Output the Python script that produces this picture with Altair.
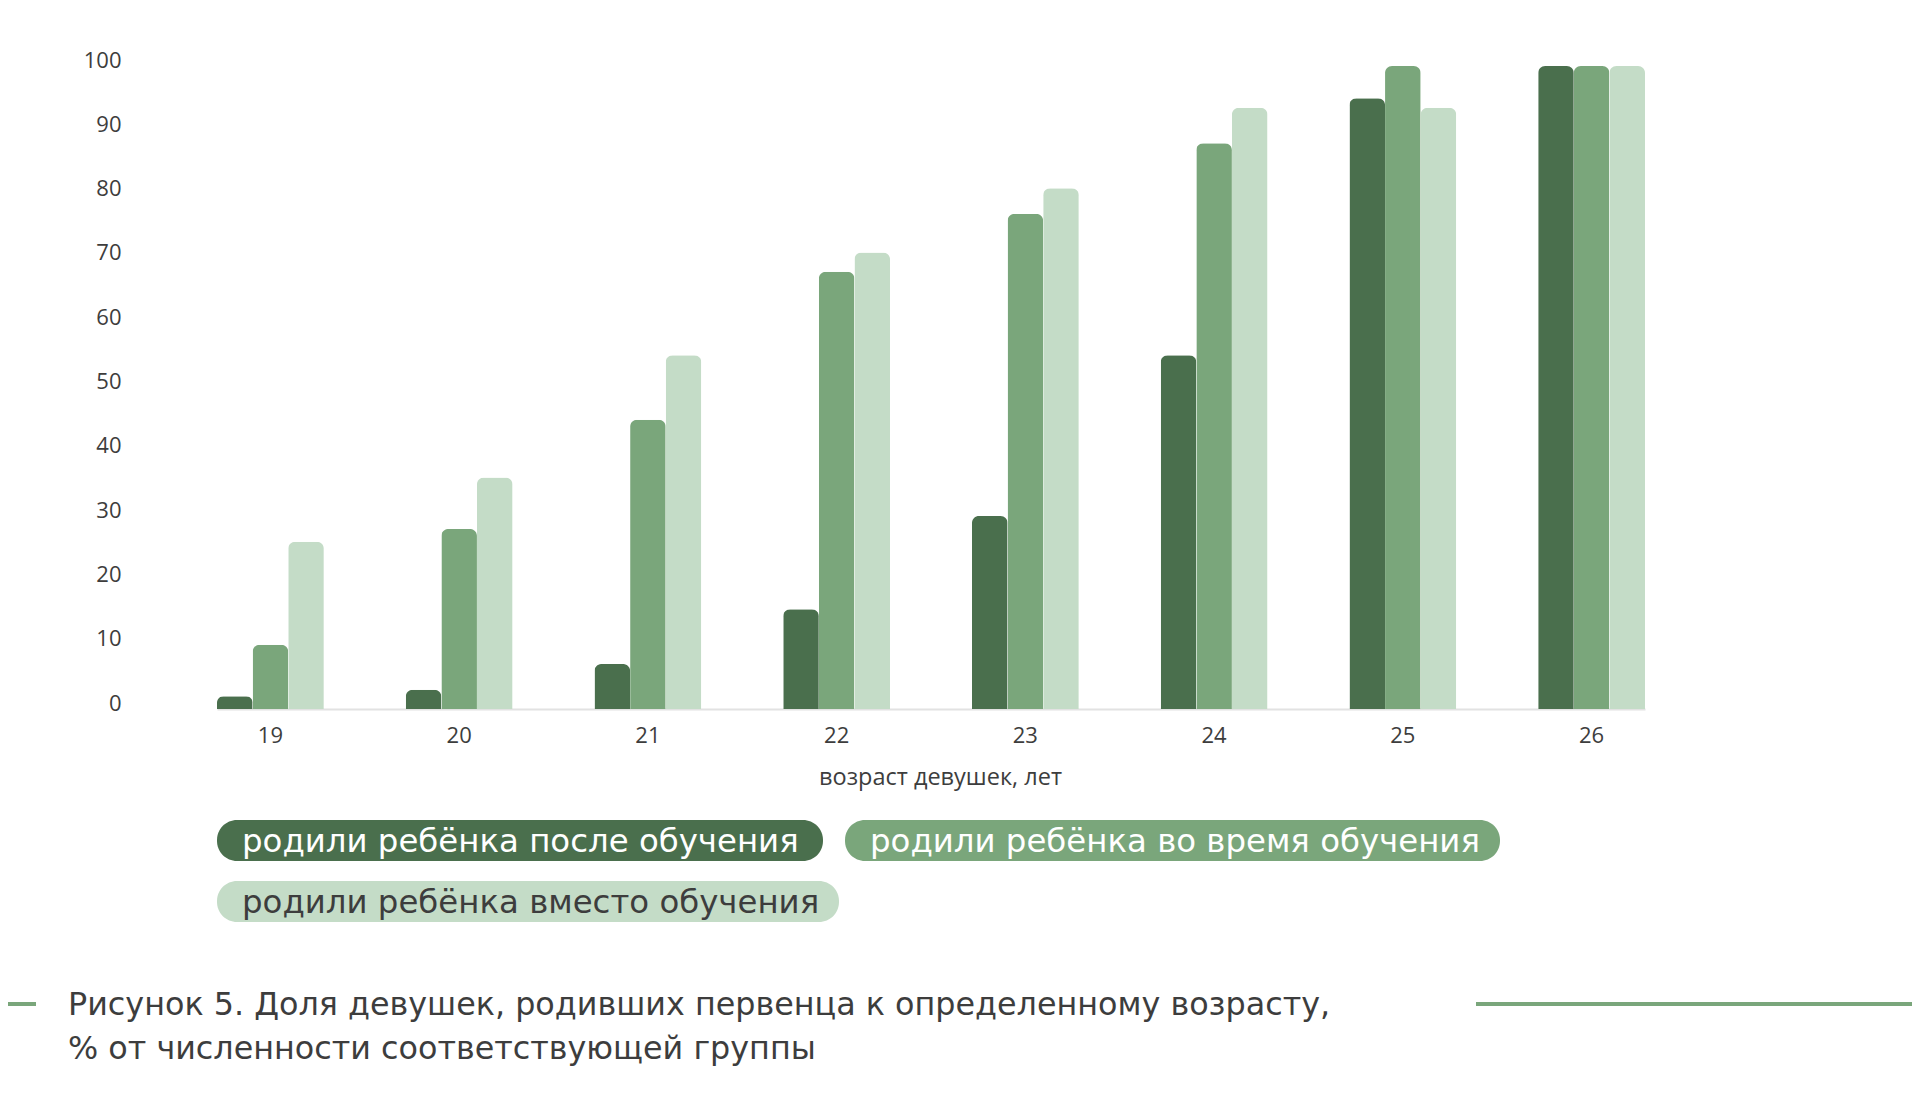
import altair as alt
import pandas as pd

# ---------------- data ----------------
AGES = ["19", "20", "21", "22", "23", "24", "25", "26"]
SERIES = [
    "родили ребёнка после обучения",
    "родили ребёнка во время обучения",
    "родили ребёнка вместо обучения",
]
AFTER = [2, 3, 7, 15.5, 30, 55, 95, 100]
DURING = [10, 28, 45, 68, 77, 88, 100, 100]
INSTEAD = [26, 36, 55, 71, 81, 93.5, 93.5, 100]
Y_TICKS = [0, 10, 20, 30, 40, 50, 60, 70, 80, 90, 100]
X_TITLE = "возраст девушек, лет"
CAPTION = [
    "Рисунок 5. Доля девушек, родивших первенца к определенному возрасту,",
    "% от численности соответствующей группы",
]

# ---------------- styles ----------------
COLORS = ["#4A6F4D", "#7AA67B", "#C4DCC7"]
LEGEND_TEXT_COLORS = ["#FFFFFF", "#FFFFFF", "#3D3D3D"]
TEXT = "#3D3D3D"
FONT = "Open Sans"
BIG_FONT = "DejaVu Sans"

# ---------------- layout (pixels, plot coordinates) ----------------
PAD_L, PAD_T = 209, 58
W, H = 1428, 643
TOTAL_W, TOTAL_H = 1904, 1080
LEGEND_X0 = [0, 628, 0]
LEGEND_X1 = [606, 1283, 622]
LEGEND_Y0 = [754, 754, 815]
LEGEND_Y1 = [795, 795, 856]
LEGEND_TEXT_INSET = 25
CAPTION_X = -149
CAPTION_Y0 = 939
CAPTION_STEP = 44

rows = []
for s, vals in zip(SERIES, [AFTER, DURING, INSTEAD]):
    for a, v in zip(AGES, vals):
        rows.append({"age": a, "series": s, "value": v})
df = pd.DataFrame(rows)

bars = alt.Chart(df).mark_bar(
    cornerRadiusTopLeft=7, cornerRadiusTopRight=7
).encode(
    x=alt.X(
        "age:N",
        sort=AGES,
        scale=alt.Scale(paddingInner=0.434, paddingOuter=0),
        axis=alt.Axis(
            title=X_TITLE,
            labelAngle=0,
            labelFont=FONT,
            labelFontSize=22,
            labelColor=TEXT,
            labelPadding=16,
            ticks=False,
            domainColor="#E2E2E2",
            domainWidth=2,
            titleFont=FONT,
            titleFontSize=23.5,
            titleFontWeight="normal",
            titleColor=TEXT,
            titleX=723,
            titleY=68,
            titleBaseline="middle",
        ),
    ),
    xOffset=alt.XOffset(
        "series:N", sort=SERIES, scale=alt.Scale(paddingInner=0, paddingOuter=0)
    ),
    y=alt.Y(
        "value:Q",
        scale=alt.Scale(domain=[0, 100], nice=False, zero=True),
        axis=alt.Axis(
            title=None,
            values=Y_TICKS,
            grid=False,
            domain=False,
            ticks=False,
            labelFont=FONT,
            labelFontSize=22,
            labelColor=TEXT,
            labelPadding=96,
            labelOffset=-6,
        ),
    ),
    color=alt.Color(
        "series:N",
        sort=SERIES,
        scale=alt.Scale(domain=SERIES, range=COLORS),
        legend=None,
    ),
)

leg_df = pd.DataFrame(
    {
        "label": SERIES,
        "fill": COLORS,
        "tcolor": LEGEND_TEXT_COLORS,
        "x0": LEGEND_X0,
        "x1": LEGEND_X1,
        "y0": LEGEND_Y0,
        "y1": LEGEND_Y1,
    }
)
leg_df["tx"] = leg_df["x0"] + LEGEND_TEXT_INSET
leg_df["ty"] = (leg_df["y0"] + leg_df["y1"]) / 2

pills = alt.Chart(leg_df).mark_rect(cornerRadius=20).encode(
    x=alt.X("x0:Q", scale=None, axis=None),
    x2="x1:Q",
    y=alt.Y("y0:Q", scale=None, axis=None),
    y2="y1:Q",
    fill=alt.Fill("fill:N", scale=None, legend=None),
)

pill_text = alt.Chart(leg_df).mark_text(
    align="left", baseline="middle", font=BIG_FONT, fontSize=32.4, dy=1
).encode(
    x=alt.X("tx:Q", scale=None, axis=None),
    y=alt.Y("ty:Q", scale=None, axis=None),
    text="label:N",
    color=alt.Color("tcolor:N", scale=None, legend=None),
)

cap_df = pd.DataFrame({"line": CAPTION})
cap_df["cx"] = CAPTION_X
cap_df["cy"] = [CAPTION_Y0 + i * CAPTION_STEP for i in range(len(CAPTION))]

caption = alt.Chart(cap_df).mark_text(
    align="left", baseline="middle", font=BIG_FONT, fontSize=31.8, color=TEXT
).encode(
    x=alt.X("cx:Q", scale=None, axis=None),
    y=alt.Y("cy:Q", scale=None, axis=None),
    text="line:N",
)

deco_df = pd.DataFrame({"x0": [-217, 1259], "x1": [-181, 1703], "y": [938, 938]})
deco = alt.Chart(deco_df).mark_rule(color=COLORS[1], strokeWidth=4).encode(
    x=alt.X("x0:Q", scale=None, axis=None),
    x2="x1:Q",
    y=alt.Y("y:Q", scale=None, axis=None),
)

chart = (
    alt.layer(bars, pills, pill_text, caption, deco)
    .resolve_scale(x="independent", y="independent", color="independent")
    .properties(
        width=W,
        height=H,
        autosize=alt.AutoSizeParams(type="none"),
        padding={"left": PAD_L, "top": PAD_T, "right": TOTAL_W - PAD_L - W, "bottom": TOTAL_H - PAD_T - H},
    )
    .configure(font=FONT)
    .configure_view(stroke="transparent", strokeWidth=0)
)

chart.save("out.html", embed_options={"renderer": "svg", "actions": False})
